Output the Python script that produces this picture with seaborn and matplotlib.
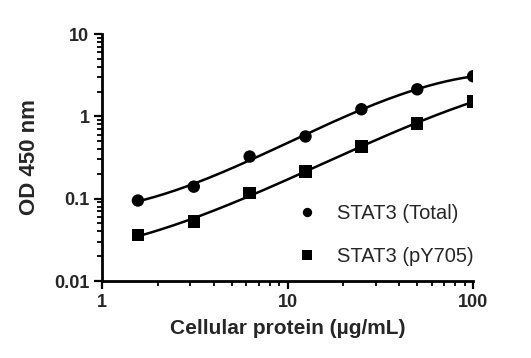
import numpy as np
import pandas as pd
import matplotlib
matplotlib.use("Agg")
import matplotlib.pyplot as plt
import seaborn as sns
from matplotlib.ticker import LogLocator, FixedLocator, NullFormatter

conc = [1.5625, 3.125, 6.25, 12.5, 25, 50, 100]
total = [0.095, 0.14, 0.325, 0.57, 1.22, 2.13, 3.07]
py705 = [0.036, 0.053, 0.117, 0.213, 0.43, 0.82, 1.52]
series_names = ["STAT3 (Total)", "STAT3 (pY705)"]
x_ticks = [1, 10, 100]
x_ticklabels = ["1", "10", "100"]
y_ticks = [0.01, 0.1, 1, 10]
y_ticklabels = ["0.01", "0.1", "1", "10"]

sns.set_style("ticks")
plt.rcParams['font.family'] = ['Liberation Sans', 'DejaVu Sans']

df = pd.DataFrame({
    "conc": conc * 2,
    "od": total + py705,
    "series": [series_names[0]] * len(conc) + [series_names[1]] * len(conc),
})

fig = plt.figure(figsize=(5.31, 3.58), dpi=100)
ax = fig.add_axes([0.192, 0.215, 0.699, 0.69])

# smooth fitted curves (cubic fit in log-log space)
for vals in (total, py705):
    lx = np.log10(conc)
    ly = np.log10(vals)
    coef = np.polyfit(lx, ly, 3)
    xs = np.linspace(lx.min(), lx.max(), 200)
    fit = pd.DataFrame({"x": 10 ** xs, "y": 10 ** np.polyval(coef, xs)})
    sns.lineplot(data=fit, x="x", y="y", ax=ax, color="black", lw=1.8, legend=False)

sns.scatterplot(data=df, x="conc", y="od", hue="series", style="series",
                markers={series_names[0]: "o", series_names[1]: "s"},
                palette={series_names[0]: "black", series_names[1]: "black"},
                s=80, edgecolor="black", linewidth=0, ax=ax, zorder=5)

ax.set_xscale("log")
ax.set_yscale("log")
ax.set_xlim(1, 100)
ax.set_ylim(0.01, 10)
ax.xaxis.set_major_locator(FixedLocator(x_ticks))
ax.yaxis.set_major_locator(FixedLocator(y_ticks))
ax.set_xticklabels(x_ticklabels)
ax.set_yticklabels(y_ticklabels)
ax.xaxis.set_minor_locator(LogLocator(base=10, subs=np.arange(2, 10)))
ax.yaxis.set_minor_locator(LogLocator(base=10, subs=np.arange(2, 10)))
ax.xaxis.set_minor_formatter(NullFormatter())
ax.yaxis.set_minor_formatter(NullFormatter())

for sp in ["top", "right"]:
    ax.spines[sp].set_visible(False)
for sp in ["left", "bottom"]:
    ax.spines[sp].set_linewidth(2)
    ax.spines[sp].set_color("black")

ax.tick_params(which="major", direction="out", length=6, width=1.6, color="black",
               labelsize=13, pad=3)
ax.tick_params(which="minor", direction="out", length=3.5, width=1.3, color="black")
for lab in ax.get_xticklabels() + ax.get_yticklabels():
    lab.set_fontweight("bold")

ax.set_xlabel("Cellular protein (µg/mL)", fontsize=15, fontweight="bold", labelpad=6)
ax.set_ylabel("OD 450 nm", fontsize=16, fontweight="bold", labelpad=10)

leg = ax.legend(loc="upper left", bbox_to_anchor=(0.504, 0.344), frameon=False,
                borderaxespad=0, fontsize=14.5, handletextpad=1.0, handlelength=1.0,
                labelspacing=1.2, markerscale=0.75)
leg.set_title(None)

fig.savefig("out.png", dpi=100)
